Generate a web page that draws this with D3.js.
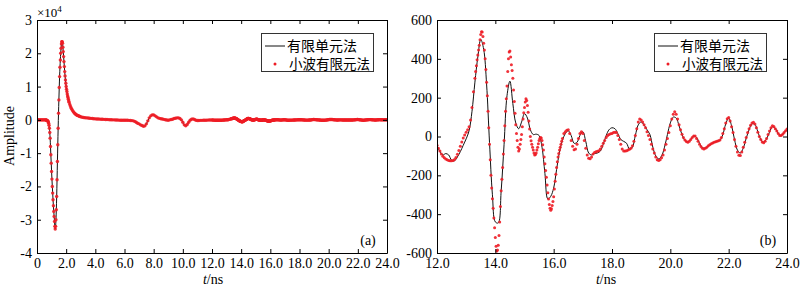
<!DOCTYPE html>
<html>
<head>
<meta charset="utf-8">
<script src="https://cdn.jsdelivr.net/npm/d3@7"></script>
<style>
  body { margin: 0; background: #fff; }
  svg text { font-family: "Liberation Serif", "Times New Roman", serif; fill: #000; }
  svg text.cjk { font-family: "Noto Sans CJK SC", sans-serif; }
</style>
</head>
<body>
<svg id="chart" width="800" height="288"></svg>
<script>
// DATA
// early part of the trace (t < 12 ns), both methods coincide, unit 1e4
const early0Start = 0, early0Step = 0.05;
const early0 = [0, 0, 0, 0, 0, 0, 0, 0, 0, 0, 0, 0];
const early1Start = 0.6, early1Step = 0.025;
const early1 = [
  0, -0.005, -0.01, -0.015, -0.02, -0.03, -0.04, -0.065,
  -0.1, -0.16, -0.25, -0.38, -0.55, -0.8, -1.05, -1.3,
  -1.55, -1.78, -2.0, -2.2, -2.4, -2.58, -2.75, -2.9,
  -3.05, -3.2, -3.28, -3.2, -3.0, -2.7, -2.3, -1.8,
  -1.25, -0.75, -0.25, 0.2, 0.6, 0.97, 1.3, 1.58,
  1.8, 2.0, 2.15, 2.28, 2.35, 2.35, 2.3, 2.18,
  2.05, 1.9, 1.75, 1.6, 1.45, 1.32, 1.2, 1.1,
  1.0, 0.92, 0.85, 0.78, 0.72, 0.67, 0.62, 0.57,
  0.53,
];
const early2Start = 2.25, early2Step = 0.05;
const early2 = [
  0.46, 0.4, 0.35, 0.31, 0.27, 0.24, 0.21, 0.19,
  0.17, 0.15, 0.14, 0.13, 0.12, 0.11, 0.1, 0.09,
];
const early3Start = 3.1, early3Step = 0.1;
const early3 = [
  0.08, 0.07, 0.065, 0.06, 0.055, 0.05, 0.045, 0.04, 0.035,
  0.03, 0.028, 0.025, 0.022, 0.02, 0.018, 0.015, 0.012, 0.01, 0.008,
  0.005, 0.003, 0, 0, -0.003, -0.005, -0.008, -0.01, -0.01, -0.01,
  -0.01, -0.01, -0.012, -0.015, -0.018, -0.022, -0.03, -0.045, -0.07, -0.1,
  -0.12, -0.15, -0.17, -0.19, -0.18, -0.12, -0.03, 0.06, 0.12, 0.15,
  0.15, 0.12, 0.09, 0.06, 0.045, 0.035, 0.025, 0.015, 0.005, -0.005,
  -0.01, 0, 0.01, 0.02, 0.04, 0.05, 0.06, 0.06, 0.04, 0,
  -0.07, -0.15, -0.18, -0.14, -0.07, -0.01, 0.02, 0.03, 0.01, -0.01,
  -0.02, -0.02, -0.015, -0.015, -0.01, -0.01, -0.01, -0.008, -0.006, -0.005,
];

// late part (12-24 ns), raw amplitude
// finite element method (black line)
const lateFemStart = 12, lateFemStep = 0.1;
const lateFem = [
  -45, -78, -95, -88, -95, -122, -125, -105, -78, -45,
  -12, 30, 130, 280, 410, 500, 450, 270, -30, -300,
  -440, -445, -280, -40, 210, 285, 170, 70, 40, 75,
  118, 95, 35, 10, 12, 5, -55, -190, -322, -308,
  -265, -170, -80, -20, 15, 30, 5, -35, -30, 5,
  25, -25, -85, -95, -88, -85, -75, -40, 5, 35,
  45, 40, 15, -15, -25, -35, -65, -55, 5, 60,
  75, 60, 35, 10, -55, -100, -115, -100, -55, 10,
  70, 100, 95, 55, 10, -20, -28, -15, 2, -5,
  -35, -58, -60, -50, -38, -30, -25, -20, 10, 65,
  95, 55, -15, -70, -85, -60, -10, 35, 65, 62,
  25, -15, -30, -12, 22, 50, 42, 15, 5, 20,
  35,
];
// wavelet finite element method (red dots)
const lateWfemAStart = 12, lateWfemAStep = 0.05;
const lateWfemA = [
  -45, -60, -75, -90, -102, -110, -116, -120, -123, -125,
  -125, -123, -118, -108, -92, -72, -50, -28, -8, 8,
  22, 35, 50, 85, 150, 230,
];
const lateWfemBStart = 13.3, lateWfemBStep = 0.025;
const lateWfemB = [
  300, 335, 365, 395, 420, 445, 470, 498,
  525, 540, 538, 515, 480, 445, 400, 345,
  280, 210, 130, 45, -40, -120, -200, -265,
  -320, -370, -420, -470, -520, -565, -590, -585,
  -560, -510, -440, -360, -280, -220, -160, -90,
  -20, 55, 130, 195, 260, 335, 400, 435,
  440, 410, 370, 340, 300, 240, 180, 120,
  60, 15, -20, -55, -75, -65, -40, -15,
  10, 50, 90, 122, 150, 178, 195, 185,
  160, 125, 80, 38, 0, -22, -40, -55,
  -70, -85, -95, -93, -85, -70, -55, -37,
  -20, -10, -5, -8, -20, -42, -70, -105,
  -140, -175, -210, -250, -290, -322, -350, -370,
  -380, -372, -355, -335, -310, -270, -230, -195,
  -160, -130, -105, -87, -70, -55, -40, -25,
  -10,
];
const lateWfemCStart = 16.35, lateWfemCStep = 0.05;
const lateWfemC = [
  15, 25, 32,
  35, 15, -20, -50, -68, -65, -40, -10, 15, 25,
  15, -20, -60, -95, -112, -115, -105, -90, -82, -78,
  -76, -74, -65, -50, -35, -20, -5, 5, 10, 14,
  16, 20, 22, 20, 5, -15, -40, -65, -75, -75,
  -73, -70, -66, -60, -48, -25, 5, 40, 75, 90,
  85, 75, 60, 45, 25, 5, -15, -40, -65, -85,
  -105, -120, -124, -120, -110, -95, -70, -40, -10, 20,
  55, 90, 115, 128, 115, 90, 60, 35, 12, -5,
  -18, -26, -30, -25, -15, -5, 2, 3, -10, -25,
  -40, -52, -60, -64, -60, -55, -48, -42, -37, -33,
  -30, -27, -25, -22, -18, -5, 15, 40, 70, 92,
  98, 80, 50, 20, -15, -50, -80, -97, -98, -80,
  -55, -30, -5, 20, 40, 58, 70, 73, 65, 45,
  22, 0, -15, -28, -32, -25, -10, 10, 28, 45,
  55, 52, 40, 28, 15, 5, 5, 12, 20, 30,
  38,
];

const seriesNames = ["有限单元法", "小波有限元法"];
const leftXTicks = [0, 2, 4, 6, 8, 10, 12, 14, 16, 18, 20, 22, 24];
const leftYTicks = [-4, -3, -2, -1, 0, 1, 2, 3];
const rightXTicks = [12, 14, 16, 18, 20, 22, 24];
const rightYTicks = [-600, -400, -200, 0, 200, 400, 600];

// samples -> [t, v]
function toPoints(values, start, step, scale) {
  return values.map((v, i) => [+(start + i * step).toFixed(3), v * scale]);
}

const early = toPoints(early0, early0Start, early0Step, 1)
  .concat(toPoints(early1, early1Start, early1Step, 1))
  .concat(toPoints(early2, early2Start, early2Step, 1))
  .concat(toPoints(early3, early3Start, early3Step, 1));

function latePoints(scale) {
  return {
    fem: toPoints(lateFem, lateFemStart, lateFemStep, scale),
    wfem: toPoints(lateWfemA, lateWfemAStart, lateWfemAStep, scale)
      .concat(toPoints(lateWfemB, lateWfemBStart, lateWfemBStep, scale))
      .concat(toPoints(lateWfemC, lateWfemCStart, lateWfemCStep, scale)),
  };
}

const svg = d3.select("#chart");
svg.append("rect").attr("width", 800).attr("height", 288).attr("fill", "#fff");

const redColor = "#ee1c25";

function drawPanel(cfg) {
  const x = d3.scaleLinear().domain(cfg.xDomain).range(cfg.xRange);
  const y = d3.scaleLinear().domain(cfg.yDomain).range([253, 20]);
  const g = svg.append("g");

  g.append("clipPath")
    .attr("id", cfg.id + "-clip")
    .append("rect")
    .attr("x", cfg.xRange[0])
    .attr("y", 20)
    .attr("width", cfg.xRange[1] - cfg.xRange[0] + 1)
    .attr("height", 234);

  const plot = g.append("g").attr("clip-path", `url(#${cfg.id}-clip)`);

  const line = d3
    .line()
    .x((d) => x(d[0]))
    .y((d) => y(d[1]))
    .curve(d3.curveCatmullRom.alpha(0.5));

  plot.append("path")
    .datum(cfg.fem)
    .attr("fill", "none")
    .attr("stroke", "#111")
    .attr("stroke-width", 1)
    .attr("d", line);

  plot.selectAll("circle")
    .data(cfg.wfem)
    .join("circle")
    .attr("cx", (d) => x(d[0]))
    .attr("cy", (d) => y(d[1]))
    .attr("r", cfg.dotR)
    .attr("fill", redColor)
    .attr("fill-opacity", 0.9);

  // AXES (ticks inside, all four sides)
  const gx = g.append("g")
    .attr("transform", "translate(0,253)")
    .call(d3.axisBottom(x).tickValues(cfg.xTicks).tickFormat(cfg.xFmt)
      .tickSize(-4).tickSizeOuter(0).tickPadding(5));
  const gy = g.append("g")
    .attr("transform", `translate(${cfg.xRange[0]},0)`)
    .call(d3.axisLeft(y).tickValues(cfg.yTicks).tickFormat((d) => String(d))
      .tickSize(-4).tickSizeOuter(0).tickPadding(5));
  const gt = g.append("g")
    .attr("transform", "translate(0,20)")
    .call(d3.axisTop(x).tickValues(cfg.xTicks).tickFormat("")
      .tickSize(-4).tickSizeOuter(0));
  const gr = g.append("g")
    .attr("transform", `translate(${cfg.xRange[1]},0)`)
    .call(d3.axisRight(y).tickValues(cfg.yTicks).tickFormat("")
      .tickSize(-4).tickSizeOuter(0));

  [gx, gy, gt, gr].forEach((a) => {
    a.selectAll("text")
      .attr("font-size", 14)
      .attr("font-family", '"Liberation Serif", "Times New Roman", serif');
    a.selectAll("path, line").attr("stroke", "#000");
  });

  // x label
  const xl = g.append("text")
    .attr("x", cfg.xLabelX)
    .attr("y", 284)
    .attr("text-anchor", "middle")
    .attr("font-size", 14);
  xl.append("tspan").attr("font-style", "italic").text("t");
  xl.append("tspan").text("/ns");

  // panel tag
  g.append("text")
    .attr("x", cfg.xRange[1] - 19)
    .attr("y", 245)
    .attr("text-anchor", "middle")
    .attr("font-size", 14)
    .text(cfg.tag);

  // LEGEND
  const lg = g.append("g").attr("transform", `translate(${cfg.legendX},33)`);
  lg.append("rect")
    .attr("x", 0.5).attr("y", 0.5)
    .attr("width", 112).attr("height", 38)
    .attr("fill", "#fff")
    .attr("stroke", "#333");
  lg.append("line")
    .attr("x1", 4).attr("x2", 24)
    .attr("y1", 13).attr("y2", 13)
    .attr("stroke", "#111");
  lg.append("text")
    .attr("class", "cjk")
    .attr("x", 26).attr("y", 18)
    .attr("font-size", 14)
    .text(seriesNames[0]);
  lg.append("circle")
    .attr("cx", 14).attr("cy", 31)
    .attr("r", 1.5)
    .attr("fill", redColor);
  lg.append("text")
    .attr("class", "cjk")
    .attr("x", 28).attr("y", 36)
    .attr("font-size", 13.5)
    .text(seriesNames[1]);
}

const lateA = latePoints(1e-4);
drawPanel({
  id: "a",
  xDomain: [0, 24],
  xRange: [37, 387],
  yDomain: [-4, 3],
  xTicks: leftXTicks,
  yTicks: leftYTicks,
  xFmt: (d) => (d === 0 ? "0" : d.toFixed(1)),
  fem: early.concat(lateA.fem),
  wfem: early.concat(lateA.wfem),
  dotR: 1.7,
  xLabelX: 213,
  tag: "(a)",
  legendX: 261,
});

const lateB = latePoints(1);
drawPanel({
  id: "b",
  xDomain: [12, 24],
  xRange: [437, 787],
  yDomain: [-600, 600],
  xTicks: rightXTicks,
  yTicks: rightYTicks,
  xFmt: (d) => d.toFixed(1),
  fem: lateB.fem,
  wfem: lateB.wfem,
  dotR: 1.5,
  xLabelX: 606,
  tag: "(b)",
  legendX: 654,
});

// y label and exponent of left panel
svg.append("text")
  .attr("transform", "translate(14,136) rotate(-90)")
  .attr("text-anchor", "middle")
  .attr("font-size", 14)
  .text("Amplitude");

const exp = svg.append("text")
  .attr("x", 37)
  .attr("y", 17)
  .attr("font-size", 13);
exp.append("tspan").text("×10");
exp.append("tspan").attr("dy", -5).attr("font-size", 9).text("4");
</script>
</body>
</html>
